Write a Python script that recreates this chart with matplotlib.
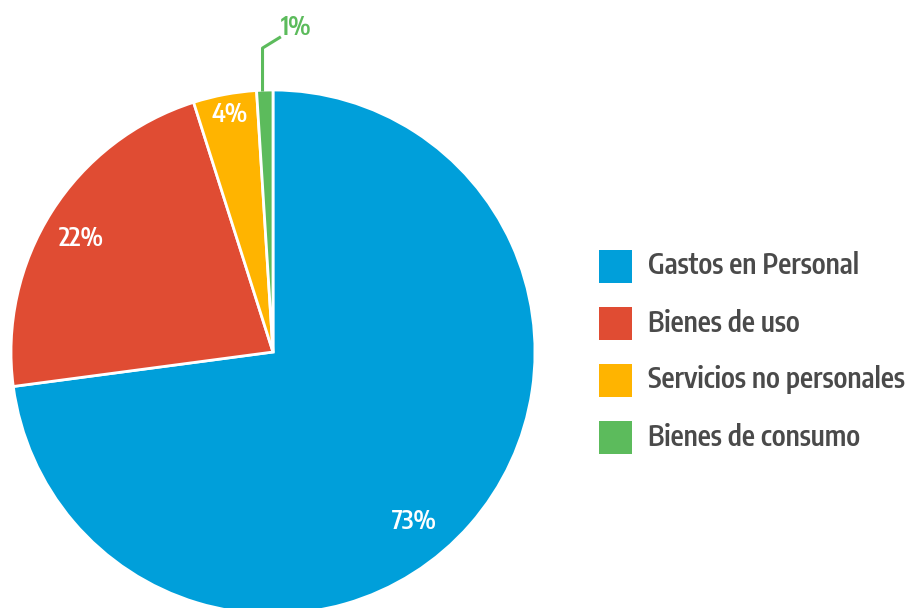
import matplotlib
matplotlib.use("Agg")
import matplotlib.pyplot as plt
from matplotlib.patches import Rectangle

# data
categories = ['Gastos en Personal', 'Bienes de uso', 'Servicios no personales', 'Bienes de consumo']
values = [72.9, 22.2, 3.9, 1.0]
pct_labels = ['73%', '22%', '4%', '1%']
colors = ['#009fda', '#e04c33', '#ffb400', '#5cbb5c']

plt.rcParams['font.family'] = ['Encode Sans Condensed', 'Roboto', 'DejaVu Sans']
TXT = '#4a4a4a'

W, H = 912, 608
fig = plt.figure(figsize=(W / 100, H / 100), dpi=100)
fig.patch.set_facecolor('white')

# pie axes: center (273,352) px, radius 262 px
cx, cy, r = 273, 352, 262
ax = fig.add_axes([(cx - r) / W, (H - cy - r) / H, 2 * r / W, 2 * r / H])
wedges, _ = ax.pie(values, colors=colors, startangle=90, counterclock=False, radius=1,
                   wedgeprops=dict(edgecolor='white', linewidth=2))
ax.set_xlim(-1, 1)
ax.set_ylim(-1, 1)
ax.set_aspect('equal')
ax.axis('off')

# labels inside slices (positions in axes data units)
inner = {0: (0.54, -0.65), 1: (-0.73, 0.43), 2: (-0.165, 0.905)}
for i, (x, y) in inner.items():
    ax.text(x, y, pct_labels[i], color='white', fontsize=18, fontweight=600,
            ha='center', va='center')

# leader line for the small slice
ax.plot([-0.04, -0.04, 0.025], [1.0, 1.16, 1.2], color=colors[3], lw=2.2, clip_on=False)
ax.text(0.03, 1.235, pct_labels[3], color=colors[3], fontsize=18, fontweight=600,
        ha='left', va='center')

# legend drawn by hand
for i, (lab, c) in enumerate(zip(categories, colors)):
    yc = 266 + 57 * i
    fig.add_artist(Rectangle((599 / W, 1 - (yc + 16.5) / H), 33 / W, 33 / H,
                             transform=fig.transFigure, facecolor=c, edgecolor='none'))
    fig.text(648 / W, 1 - yc / H, lab, color=TXT, fontsize=20, fontweight=600,
             ha='left', va='center')

fig.savefig('out.png', dpi=100, facecolor='white')
